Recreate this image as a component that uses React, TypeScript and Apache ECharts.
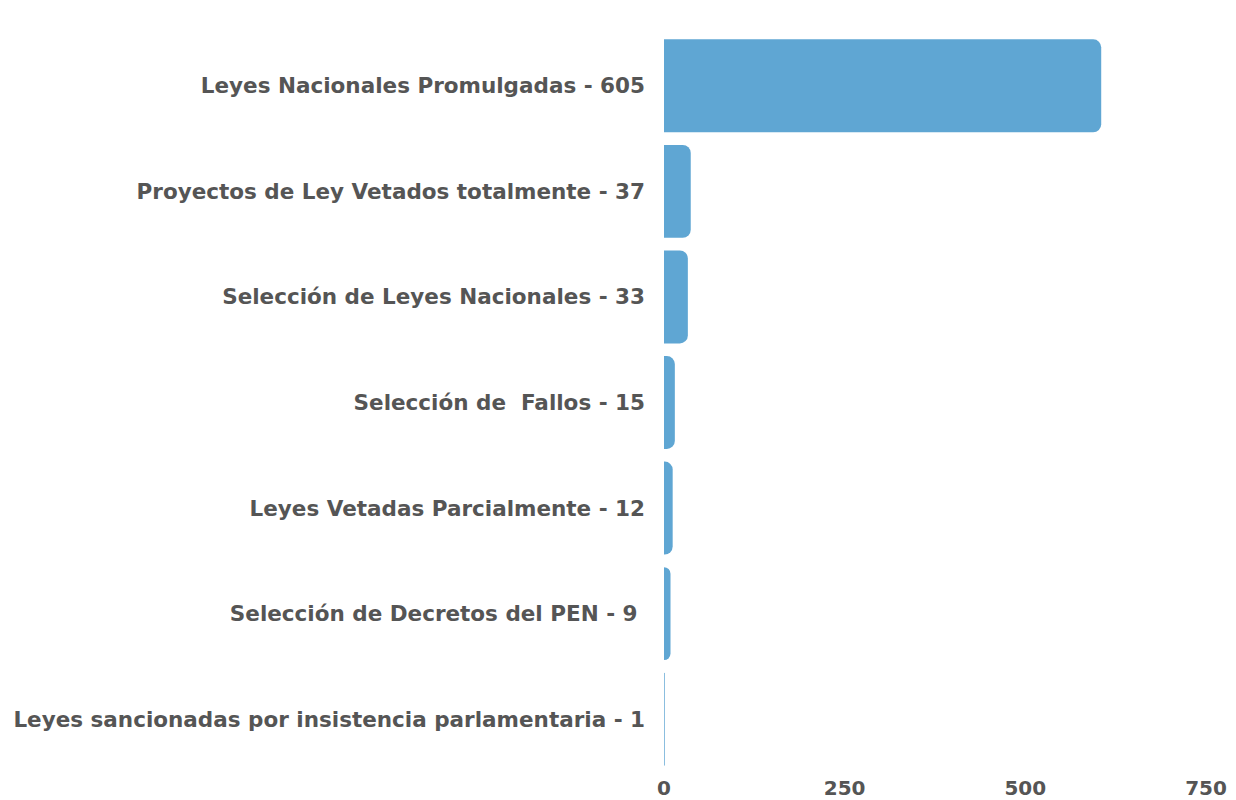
import React, { useEffect, useRef } from "react";
import * as echarts from "echarts";

const categoryNames = [
  "Leyes Nacionales Promulgadas",
  "Proyectos de Ley Vetados totalmente",
  "Selección de Leyes Nacionales",
  "Selección de  Fallos",
  "Leyes Vetadas Parcialmente",
  "Selección de Decretos del PEN",
  "Leyes sancionadas por insistencia parlamentaria",
];
const values = [605, 37, 33, 15, 12, 9, 1];
const labelTrail = ["", "", "", "", "", " ", ""];
const xTicks = [0, 250, 500, 750];

export default function App() {
  const ref = useRef<HTMLDivElement>(null);
  useEffect(() => {
    if (!ref.current) return;
    const chart = echarts.init(ref.current, undefined, { renderer: "svg" });
    const labels = categoryNames.map((n, i) => `${n} - ${values[i]}${labelTrail[i]}`);
    chart.setOption({
      animation: false,
      grid: { left: 664, right: 30, top: 33, bottom: 28, containLabel: false },
      xAxis: {
        type: "value",
        min: xTicks[0],
        max: xTicks[xTicks.length - 1],
        interval: 250,
        axisLine: { show: false },
        axisTick: { show: false },
        splitLine: { show: false },
        axisLabel: {
          color: "#555555",
          fontSize: 20,
          fontFamily: "DejaVu Sans",
          fontWeight: "bold",
          margin: 6,
        },
      },
      yAxis: {
        type: "category",
        inverse: true,
        data: labels,
        axisLine: { show: false },
        axisTick: { show: false },
        splitLine: { show: false },
        axisLabel: {
          color: "#555555",
          fontSize: 21.5,
          fontFamily: "DejaVu Sans",
          fontWeight: "bold",
          margin: 19,
        },
      },
      series: [
        {
          type: "bar",
          data: values,
          barWidth: "88%",
          itemStyle: { color: "#5fa6d3", borderRadius: [0, 8, 8, 0] },
        },
      ],
    });
    return () => chart.dispose();
  }, []);
  return <div ref={ref} style={{ width: 1236, height: 800, position: "absolute", left: 0, top: 0 }} />;
}
